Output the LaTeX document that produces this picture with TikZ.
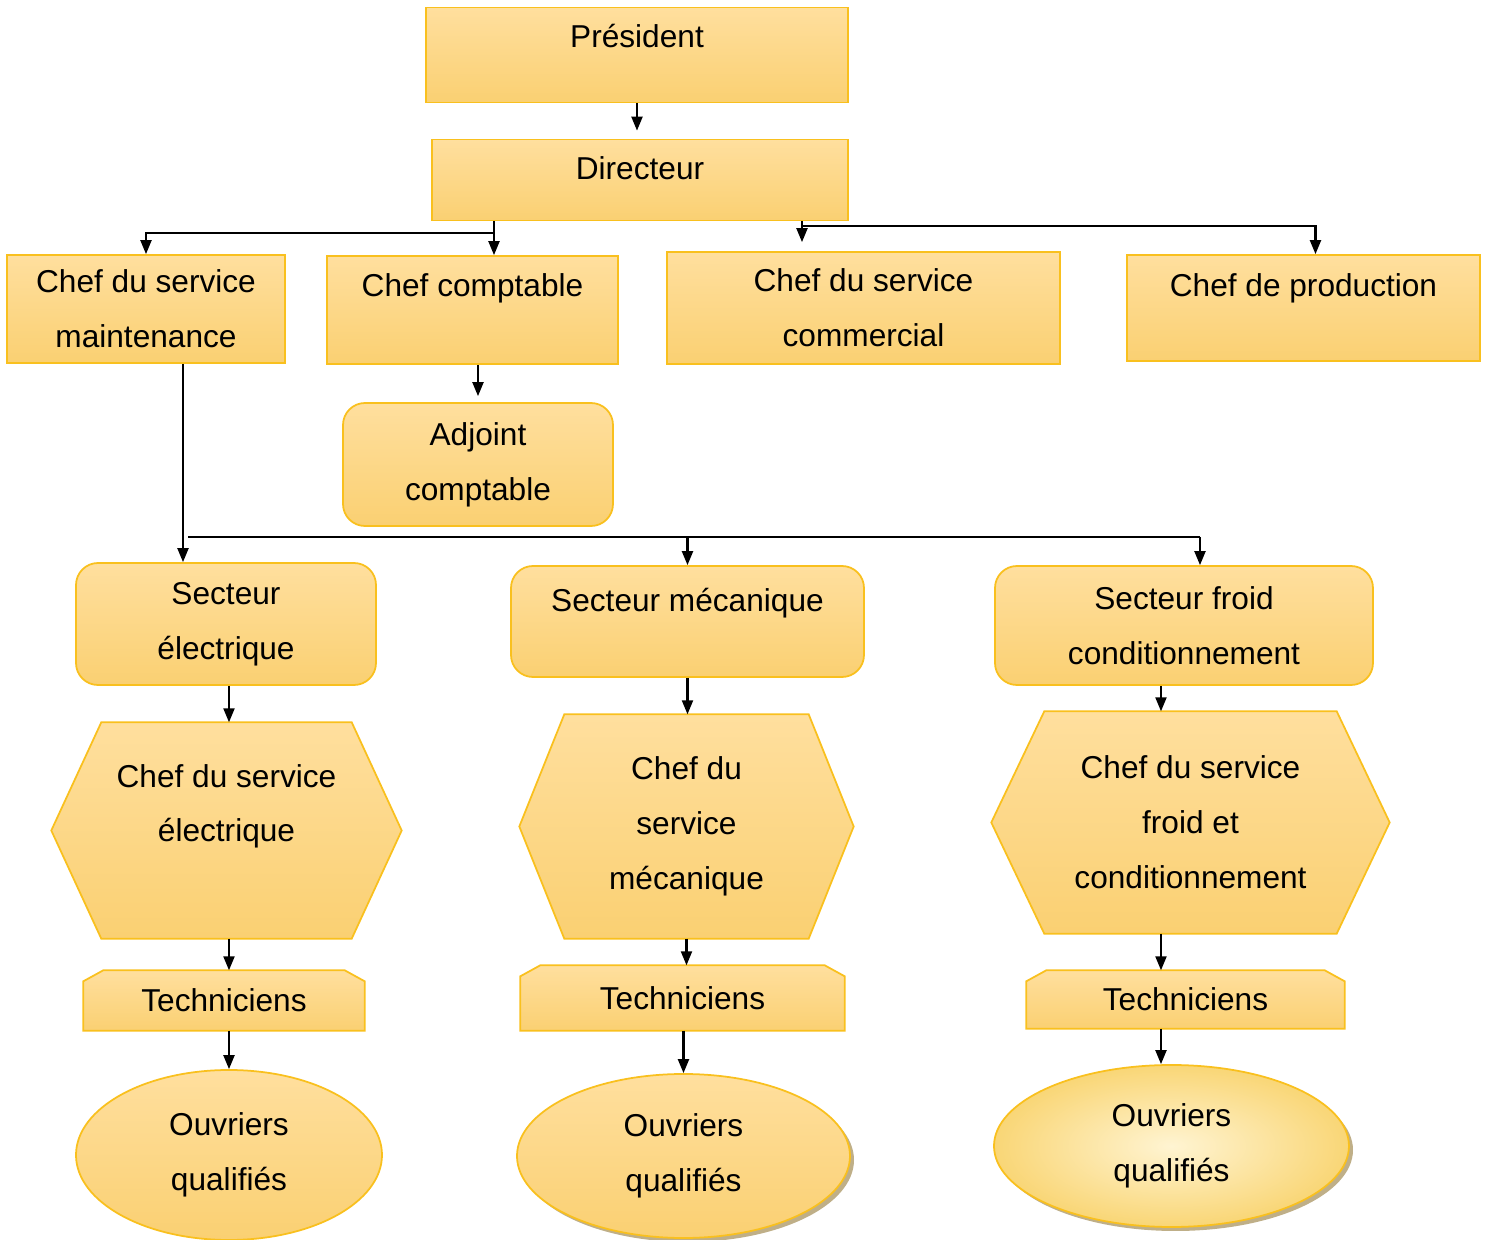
\documentclass[tikz,border=0pt]{standalone}
\usepackage{fontspec}
\setmainfont{Liberation Sans}
\usetikzlibrary{positioning,arrows.meta,shapes.geometric,shadows,backgrounds,calc}
\definecolor{BoxTop}{HTML}{FFDF9E}
\definecolor{BoxBot}{HTML}{FAD072}
\definecolor{BoxLine}{HTML}{F9C01E}
\definecolor{OvalIn}{HTML}{FFF4D2}
\definecolor{OvalOut}{HTML}{F9D676}
\definecolor{ShadowTan}{HTML}{BFAF88}
\definecolor{TextDark}{HTML}{000000}

\begin{document}
\begin{tikzpicture}[
        every node/.style={font=\fontsize{9pt}{15.6pt}\selectfont, align=center, text=TextDark},
        FL/.style={draw=BoxLine, line width=0.5pt, top color=BoxTop, bottom color=BoxBot},
        BX/.style={rectangle, FL},
        RB/.style={BX, rounded corners=2.2mm},
        HX/.style={rectangle},
        TC/.style={rectangle},
        OV/.style={ellipse, FL, inner sep=0pt},
        arr/.style={-{Triangle[length=1.4mm,width=1.1mm]}, line width=0.6pt},
        ln/.style={line width=0.6pt},
      ]
      \useasboundingbox (0,0) rectangle (14.88,12.40);

      % Top of the chart
      \node[BX, minimum width=42.2mm, minimum height=9.5mm,
        text height=2.4mm, text depth=3.8mm] (pres) at (6.37,11.85) {Président};
      \node[BX, minimum width=41.6mm, minimum height=8.1mm,
        text height=2.4mm, text depth=2.4mm] (dir) at (6.40,10.60) {Directeur};

      % Chefs
      \node[BX, minimum width=27.8mm, minimum height=10.8mm] (mnt) at (1.46,9.31)
        {Chef du service\\maintenance};
      \node[BX, minimum width=29.1mm, minimum height=10.8mm,
        text height=2.4mm, text depth=5.1mm] (cpt) at (4.725,9.30) {Chef comptable};
      \node[BX, minimum width=39.3mm, minimum height=11.2mm] (com) at (8.635,9.32)
        {Chef du service\\commercial};
      \node[BX, minimum width=35.3mm, minimum height=10.6mm,
        text height=2.4mm, text depth=4.7mm] (prod) at (13.035,9.32) {Chef de production};
      \node[RB, minimum width=27.0mm, minimum height=12.3mm] (adj) at (4.78,7.755)
        {Adjoint\\comptable};

      % Secteurs
      \node[RB, minimum width=30.0mm, minimum height=12.2mm] (sel) at (2.26,6.16)
        {Secteur\\électrique};
      \node[RB, minimum width=35.3mm, minimum height=11.1mm,
        text height=2.4mm, text depth=4.4mm] (smc) at (6.875,6.185) {Secteur mécanique};
      \node[RB, minimum width=37.8mm, minimum height=11.9mm] (sfr) at (11.84,6.145)
        {Secteur froid\\conditionnement};

      % Chefs de service (hexagons drawn behind)
      \node[HX, minimum width=34.9mm, minimum height=21.5mm] (hel) at (2.265,4.095)
        {Chef du service\\électrique\\\mbox{}};
      \node[HX, minimum width=33.3mm, minimum height=22.3mm] (hmc) at (6.865,4.135)
        {Chef du\\service\\mécanique};
      \node[HX, minimum width=39.7mm, minimum height=22.1mm] (hfr) at (11.905,4.175)
        {Chef du service\\froid et\\conditionnement};

      % Techniciens
      \node[TC, minimum width=28.0mm, minimum height=5.9mm] (tel) at (2.24,2.395) {Techniciens};
      \node[TC, minimum width=32.3mm, minimum height=6.4mm] (tmc) at (6.825,2.42) {Techniciens};
      \node[TC, minimum width=31.7mm, minimum height=5.7mm] (tfr) at (11.855,2.405) {Techniciens};

      % Ouvriers
      \node[OV, minimum width=30.6mm, minimum height=17.0mm] (oel) at (2.29,0.85)
        {Ouvriers\\qualifiés};
      \node[OV, minimum width=33.3mm, minimum height=16.4mm,
        drop shadow={shadow xshift=0.4mm, shadow yshift=-0.4mm, fill=ShadowTan, opacity=1}]
        (omc) at (6.835,0.84) {Ouvriers\\qualifiés};
      \node[OV, minimum width=35.5mm, minimum height=16.2mm, inner color=OvalIn, outer color=OvalOut,
        drop shadow={shadow xshift=0.4mm, shadow yshift=-0.4mm, fill=ShadowTan, opacity=1}]
        (ofr) at (11.715,0.94) {Ouvriers\\qualifiés};

      % Hexagon and chamfered outlines
      \begin{scope}[on background layer]
        \foreach \n/\s in {hel/5mm, hmc/4.5mm, hfr/5.3mm}
          \path[FL] (\n.west) -- ([xshift=\s]\n.north west) -- ([xshift=-\s]\n.north east)
            -- (\n.east) -- ([xshift=-\s]\n.south east) -- ([xshift=\s]\n.south west) -- cycle;
        \foreach \n in {tel, tmc, tfr}
          \path[FL] (\n.south west) -- ([yshift=-1.1mm]\n.north west) -- ([xshift=2mm]\n.north west)
            -- ([xshift=-2mm]\n.north east) -- ([yshift=-1.1mm]\n.north east) -- (\n.south east) -- cycle;
      \end{scope}

      % Branch helper coordinates
      \coordinate (jl) at (4.94,10.07);
      \coordinate (jr) at (8.02,10.14);
      \coordinate (jm) at (1.83,7.03);
      \coordinate (jf) at (12.00,7.03);
      \coordinate (cf) at (11.61,0);

      % Arrows
      \draw[arr] (pres.south) -- ($(pres.south |- dir.north)+(0,0.08)$);
      \draw[ln]  (dir.south -| jl) -- (jl);
      \draw[arr] (jl) -| (mnt.north);
      \draw[arr] (jl) -- (jl |- cpt.north);
      \draw[arr] (dir.south -| jr) -- ($(jr |- com.north)+(0,0.09)$);
      \draw[arr] (jr) -| ([xshift=1.2mm]prod.north);
      \draw[arr] (cpt.south -| adj.north) -- ($(adj.north)+(0,0.06)$);

      \draw[arr] (mnt.south -| jm) -- (jm |- sel.north);
      \draw[ln]  ([xshift=0.5mm]jm) -- (jf);
      \draw[arr] (smc.north |- jm) -- (smc.north);
      \draw[arr] (jf) -- (jf |- sfr.north);

      \draw[arr] (sel.south -| oel.north) -- (hel.north -| oel.north);
      \draw[arr] (smc.south) -- (smc.south |- hmc.north);
      \draw[arr] (sfr.south -| cf) -- (hfr.north -| cf);
      \draw[arr] (hel.south -| oel.north) -- (tel.north -| oel.north);
      \draw[arr] (hmc.south) -- (hmc.south |- tmc.north);
      \draw[arr] (hfr.south -| cf) -- (tfr.north -| cf);
      \draw[arr] (tel.south -| oel.north) -- (oel.north);
      \draw[arr] (tmc.south -| omc.north) -- (omc.north);
      \draw[arr] (tfr.south -| cf) -- (ofr.north -| cf);

    \end{tikzpicture}
\end{document}
